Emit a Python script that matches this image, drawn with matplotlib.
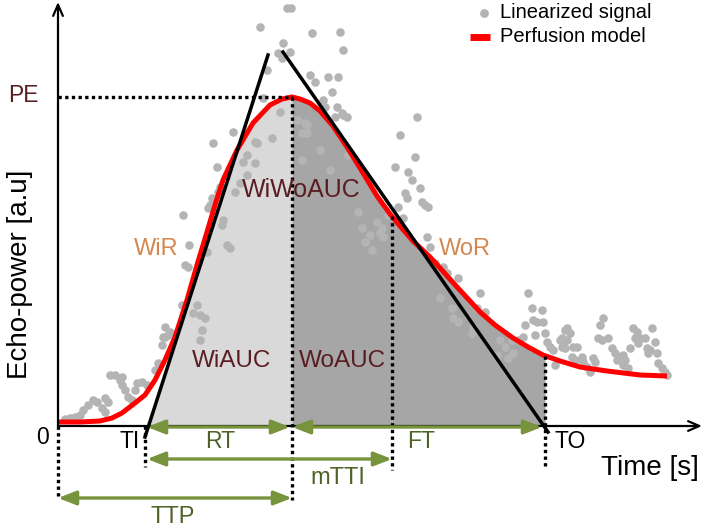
import numpy as np
import matplotlib
matplotlib.use("Agg")
import matplotlib.pyplot as plt

plt.rcParams['font.family'] = ['Liberation Sans', 'DejaVu Sans']

# time / echo-power values (arbitrary units, origin at the axes corner)
model_t = [0, 22, 42, 54, 64, 77, 87, 97, 107, 117, 129, 139, 149, 157, 165, 179, 195, 212, 224, 234,
           242, 252, 262, 275, 289, 302, 319, 332, 342, 355, 372, 382, 399, 412, 422, 437, 455, 470, 485,
           502, 522, 549, 582, 609]
model_e = [4, 4, 5, 8, 13, 23, 31, 46, 66, 89, 126, 161, 194, 221, 246, 276, 303, 321, 327, 329,
           327, 323, 315, 300, 279, 258, 230, 212, 200, 185, 169, 158, 139, 125, 114, 101, 88, 79, 71,
           65, 59, 55, 51, 50]

signal_t = [7, 12, 17, 22, 25, 30, 35, 39, 44, 47, 47, 50, 52, 57, 62, 64, 67, 70, 74, 77, 79, 84, 89, 64,
            97, 100, 104, 107, 112, 105, 110,
            107, 124, 139, 135, 142, 147, 144, 142, 127, 130, 149, 131, 169, 172, 125, 165, 164, 152, 150,
            154, 159, 162, 160, 177, 182, 189, 189, 185, 197, 155, 175, 197, 214, 199, 222, 244,
            229, 233, 202, 254, 282, 225, 220, 232, 224, 285, 209, 252, 257, 270, 280, 274, 265, 279, 285,
            277, 205, 249, 244, 239, 267, 284, 289,
            359, 342, 357, 337, 350, 354, 362, 347, 349, 364, 367, 370, 340, 345, 369, 372, 377, 385, 389,
            400, 422, 470, 474, 484, 475, 479, 467, 487, 477, 465, 460, 324, 325,
            247, 249, 290, 300, 319, 304, 312, 307, 314, 322, 330, 382, 394, 419, 427, 395, 400, 414, 415,
            442, 447, 454, 455, 439, 450, 272, 262,
            485, 489, 492, 495, 497, 502, 505, 504, 509, 512, 507, 515, 514, 517, 524, 524, 525, 529, 535,
            537, 532, 545, 542, 540, 544, 550, 554, 557, 562, 559, 565, 567, 565, 570, 575, 579, 577, 582,
            587, 580, 572, 589, 592, 594, 597, 590, 599, 600, 604, 607, 609, 507, 504, 509, 519]
signal_e = [7, 8, 9, 11, 16, 21, 26, 24, 18, 14, 28, 24, 51, 51, 46, 41, 36, 29, 26, 36, 43, 44, 41, 49,
            56, 63, 81, 89, 94, 89, 91,
            99, 121, 121, 113, 111, 108, 96, 86, 161, 159, 174, 181, 181, 178, 211, 206, 201, 221, 218,
            228, 259, 239, 234, 234, 243, 251, 271, 264, 263, 283, 294, 284, 288, 283, 314, 266,
            418, 418, 399, 393, 394, 383, 373, 374, 368, 376, 356, 351, 344, 349, 349, 334, 326, 319, 311,
            309, 328, 301, 293, 306, 319, 313, 309,
            309, 291, 269, 259, 254, 246, 238, 233, 228, 224, 221, 219, 219, 208, 189, 179, 163, 159, 153,
            148, 133, 133, 118, 116, 106, 104, 101, 93, 91, 89, 86, 198, 189,
            303, 293, 271, 214, 204, 198, 191, 184, 176, 193, 211, 128, 118, 118, 114, 108, 104, 93, 99,
            86, 79, 86, 73, 71, 68, 256, 276,
            104, 84, 79, 76, 61, 86, 84, 79, 98, 93, 78, 79, 69, 66, 66, 69, 64, 59, 68,
            64, 54, 108, 101, 88, 86, 88, 78, 73, 69, 66, 71, 66, 61, 58, 98, 94, 88, 88,
            88, 83, 78, 78, 76, 98, 84, 73, 73, 63, 58, 54, 51, 96, 88, 86, 79]

# wash-in and wash-out tangents (end points)
wash_in_t = [87, 210]
wash_in_e = [-11, 371]
wash_out_t = [225, 490]
wash_out_e = [374, -6]

# characteristic times and peak
TI = 89
TP = 234
mTTI = 334
TO = 487
PE = 329

fig = plt.figure(figsize=(7.05, 5.28), dpi=100)
ax = fig.add_axes([0, 0, 1, 1])
ax.set_xlim(-58, 647)
ax.set_ylim(-102, 426)
ax.axis('off')

# areas under the curve
def area_top(t):
    curve = np.interp(t, model_t, model_e)
    slope = (wash_in_e[1] - wash_in_e[0]) / (wash_in_t[1] - wash_in_t[0])
    line = wash_in_e[0] + slope * (t - wash_in_t[0])
    return np.minimum(curve, line)

t_in = np.linspace(TI, TP, 400)
t_out = np.linspace(TP, TO, 400)
ax.fill_between(t_in, 0, area_top(t_in), color='#d9d9d9', lw=0, zorder=1)
ax.fill_between(t_out, 0, area_top(t_out), color='#a6a6a6', lw=0, zorder=1)

# signal and model
ax.scatter(signal_t, signal_e, s=38, color='#b4b4b4', lw=0, zorder=2)
ax.plot(model_t, model_e, color='#ff0000', lw=3.6, zorder=3, solid_capstyle='butt')

# tangents
ax.plot(wash_in_t, wash_in_e, color='black', lw=2.5, zorder=4)
ax.plot(wash_out_t, wash_out_e, color='black', lw=2.5, zorder=4)

# axes with arrows
ax.annotate('', xy=(0, 424), xytext=(0, 0),
            arrowprops=dict(arrowstyle='->,head_length=0.8,head_width=0.35', color='black', lw=1.6,
                            shrinkA=0, shrinkB=0), zorder=5)
ax.annotate('', xy=(644, 0), xytext=(0, 0),
            arrowprops=dict(arrowstyle='->,head_length=0.8,head_width=0.35', color='black', lw=1.6,
                            shrinkA=0, shrinkB=0), zorder=5)

# dotted guides
dot = dict(color='black', lw=2.4, linestyle=(0, (1, 1)), zorder=5)
ax.plot([0, TP], [PE, PE], **dot)
ax.plot([0, 0], [0, -72], **dot)
ax.plot([TI - 2, TI - 2], [0, -41], **dot)
ax.plot([TP, TP], [PE, -74], **dot)
ax.plot([mTTI, mTTI], [np.interp(mTTI, model_t, model_e), -44], **dot)
ax.plot([TO, TO], [np.interp(TO, model_t, model_e), -40], **dot)

# time spans
green = '#77933c'
def span(t0, t1, e):
    ax.annotate('', xy=(t1, e), xytext=(t0, e),
                arrowprops=dict(arrowstyle='<|-|>,head_length=0.9,head_width=0.35', color=green, lw=2.4,
                                shrinkA=0, shrinkB=0, mutation_scale=12), zorder=6)

span(TI, TP - 2, -1)
span(TP, TO - 3, -1)
span(TI, mTTI, -33)
span(0, TP, -72)

# labels
maroon = '#5a1d22'
orange = '#d4874f'
gtext = '#4f6228'
fs = 16.5
ax.text(-35, 330, 'PE', color=maroon, fontsize=fs, ha='center', va='center')
ax.text(-16, -12, '0', color='black', fontsize=fs, ha='center', va='center')
ax.text(72, -15, 'TI', color='black', fontsize=fs, ha='center', va='center')
ax.text(512, -15, 'TO', color='black', fontsize=fs, ha='center', va='center')
ax.text(162, -15, 'RT', color=gtext, fontsize=fs, ha='center', va='center')
ax.text(363, -15, 'FT', color=gtext, fontsize=fs, ha='center', va='center')
ax.text(280, -52, 'mTTI', color=gtext, fontsize=17, ha='center', va='center')
ax.text(115, -91, 'TTP', color=gtext, fontsize=17, ha='center', va='center')
ax.text(592, -42, 'Time [s]', color='black', fontsize=20, ha='center', va='center')
ax.text(-38, 152, 'Echo-power [a.u]', color='black', fontsize=20, ha='center', va='center', rotation=90)
ax.text(98, 177, 'WiR', color=orange, fontsize=17, ha='center', va='center')
ax.text(407, 177, 'WoR', color=orange, fontsize=17, ha='center', va='center')
ax.text(243, 236, 'WiWoAUC', color=maroon, fontsize=18, ha='center', va='center', zorder=7)
ax.text(174, 65, 'WiAUC', color=maroon, fontsize=17.5, ha='center', va='center', zorder=7)
ax.text(284, 65, 'WoAUC', color=maroon, fontsize=17.5, ha='center', va='center', zorder=7)

# legend
ax.scatter([426], [413], s=40, color='#b4b4b4', lw=0)
ax.plot([412, 432], [389, 389], color='#ff0000', lw=5, solid_capstyle='butt')
ax.text(442, 413, 'Linearized signal', color='black', fontsize=14.5, ha='left', va='center')
ax.text(442, 390, 'Perfusion model', color='black', fontsize=14.5, ha='left', va='center')

fig.savefig('out.png', dpi=100)
